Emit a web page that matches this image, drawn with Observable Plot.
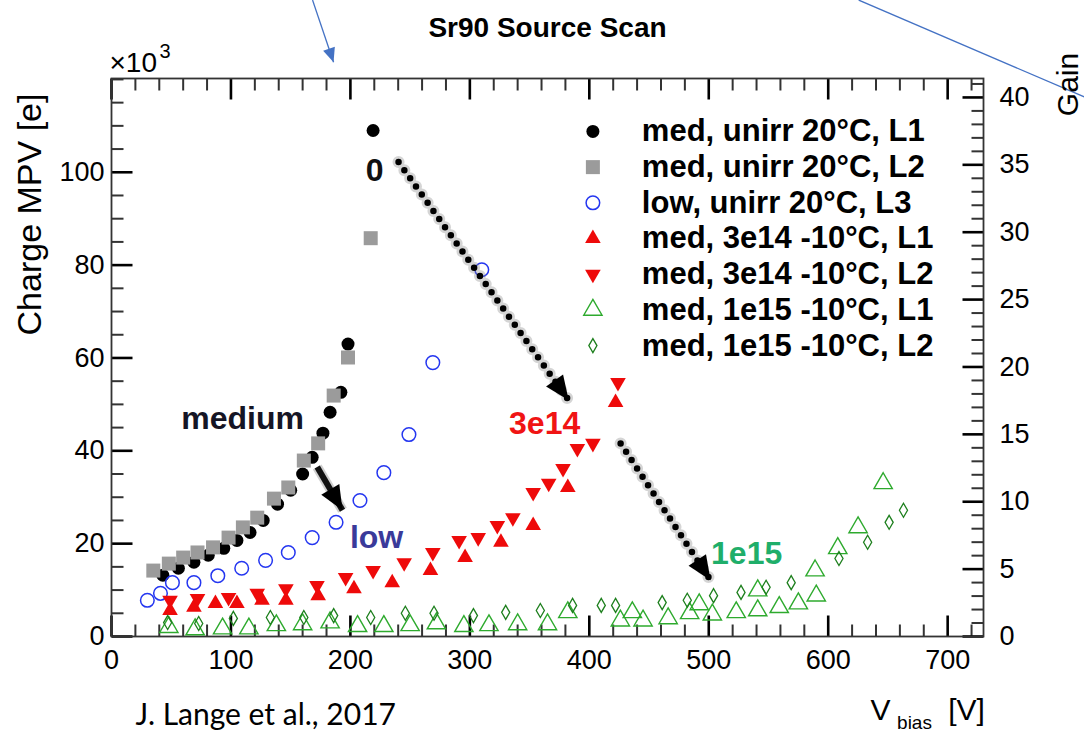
<!DOCTYPE html>
<html><head><meta charset="utf-8">
<script src="https://cdn.jsdelivr.net/npm/d3@7"></script>
<script src="https://cdn.jsdelivr.net/npm/@observablehq/plot@0.6"></script>
<style>
html,body{margin:0;padding:0;background:#fff;}
</style></head><body>
<script>
// ---------- data (V_bias [V], Charge MPV [x10^3 e]) ----------
const seriesLabels = [
  "med, unirr 20°C, L1",
  "med, unirr 20°C, L2",
  "low, unirr 20°C, L3",
  "med, 3e14 -10°C, L1",
  "med, 3e14 -10°C, L2",
  "med, 1e15 -10°C, L1",
  "med, 1e15 -10°C, L2"
];
const medUnirrL1V = [43,56,69,81,94,105,116,127,139,150,160,168,177,183,192,198,219];
const medUnirrL1Q = [13.2,14.7,16.0,17.5,19.0,20.7,22.4,25.0,28.5,31.5,35.0,38.6,43.8,48.3,52.6,63.0,109.0];
const medUnirrL2V = [35,48,60,72,85,98,110,122,136,148,161,173,186,198,217];
const medUnirrL2Q = [14.2,15.7,17.0,18.1,19.2,21.3,23.5,25.6,29.7,32.1,37.9,41.6,51.9,60.1,85.8];
const lowUnirrL3V = [30,41,51,69,89,109,129,148,168,188,208,228,249,269,310];
const lowUnirrL3Q = [7.8,9.3,11.6,11.6,13.1,14.7,16.4,18.1,21.3,24.6,29.3,35.3,43.5,59.0,79.0];
const med3e14L1V = [49,69,87,105,126,146,173,203,235,267,296,326,353,382,422];
const med3e14L1Q = [5.6,6.3,7.1,7.1,7.8,7.8,8.8,10.3,11.6,14.2,17.0,20.3,23.9,32.1,50.4];
const med3e14L2V = [49,72,98,122,146,172,196,219,245,269,291,307,323,336,353,366,378,390,403,424];
const med3e14L2Q = [7.8,8.2,8.4,9.3,10.3,11.0,12.7,14.2,15.9,18.1,20.7,21.3,23.9,25.6,31.0,33.0,36.2,40.5,41.6,54.7];
const med1e15L1V = [48,70,93,115,138,160,183,206,228,250,272,295,316,340,365,382,426,436,445,466,484,492,503,523,541,541,559,575,589,590,608,625,646];
const med1e15L1Q = [2.0,1.5,1.7,1.7,2.4,2.6,3.0,2.2,2.2,2.4,2.8,2.2,2.4,2.6,2.6,5.2,3.4,5.2,3.4,3.9,5.0,6.9,4.7,5.2,5.6,9.9,6.3,7.1,14.2,8.8,19.0,23.5,33.0];
const med1e15L2V = [47,73,102,133,161,186,217,246,270,303,330,359,386,410,422,461,482,504,527,548,569,609,633,651,663];
const med1e15L2Q = [3.0,2.8,3.9,4.1,4.1,4.5,4.1,5.0,5.0,4.5,5.2,5.6,6.7,6.7,6.7,7.3,7.8,8.8,9.5,10.6,11.6,16.8,20.3,24.6,27.2];

// axis ticks
const xTickLabels = [0,100,200,300,400,500,600,700];
const xMinorTicks = [20,40,60,80,120,140,160,180,220,240,260,280,320,340,360,380,420,440,460,480,520,540,560,580,620,640,660,680,720];
const yTickLabels = [0,20,40,60,80,100];
const yMinorTicks = [5,10,15,25,30,35,45,50,55,65,70,75,85,90,95,105,110,115,120];
const gainTickLabels = [0,5,10,15,20,25,30,35,40];
const gainMinorTicks = [1,2,3,4,6,7,8,9,11,12,13,14,16,17,18,19,21,22,23,24,26,27,28,29,31,32,33,34,36,37,38,39,41];
const kePerGain = 2.903;

// annotations (data units)
const annoLabels = ["medium","low","0","3e14","1e15"];
const annoV = [109.7, 221.9, 220.2, 362.6, 531.7];
const annoQ = [47.0, 21.3, 100.4, 45.9, 17.9];
const annoColors = ["#151525","#3a3a9a","#111111","#f01414","#1fae6a"];
const dottedArrows = [
  {x1: 240.3, y1: 102.2, x2: 382.7, y2: 50.9},
  {x1: 426.2, y1: 41.6, x2: 501.5, y2: 12.1}
];
const solidArrows = [{x1: 172.2, y1: 36.5, x2: 193.4, y2: 27.2}];
const blueLines = [
  {x1: 168.3, y1: 137.1, x2: 185.9, y2: 123.7, head: true},
  {x1: 625.5, y1: 137.1, x2: 814.7, y2: 116.2, head: false}
];

// ---------- styles ----------
const thinDiamond = {draw(ctx, size){ const R = Math.sqrt(size/Math.PI); ctx.moveTo(0,-R); ctx.lineTo(0.58*R,0); ctx.lineTo(0,R); ctx.lineTo(-0.58*R,0); ctx.closePath(); }};
const arrowHead = {draw(ctx, size){ const R = Math.sqrt(size/Math.PI); ctx.moveTo(0,0); ctx.lineTo(0.95*R, 2.2*R); ctx.lineTo(-0.95*R, 2.2*R); ctx.closePath(); }};

const series = [
  {v: medUnirrL1V, q: medUnirrL1Q, style: {symbol: "circle", r: 6.5, fill: "#000"}},
  {v: medUnirrL2V, q: medUnirrL2Q, style: {symbol: "square", r: 7.9, fill: "#9b9b9b"}},
  {v: lowUnirrL3V, q: lowUnirrL3Q, style: {symbol: "circle", r: 6.8, fill: "none", stroke: "#2436f0", strokeWidth: 1.5}},
  {v: med3e14L1V, q: med3e14L1Q, style: {symbol: "triangle", r: 5.8, fill: "#ee0a0a"}},
  {v: med3e14L2V, q: med3e14L2Q, style: {symbol: "triangle", r: 5.8, fill: "#ee0a0a", rotate: 180}},
  {v: med1e15L1V, q: med1e15L1Q, style: {symbol: "triangle", r: 6.8, fill: "none", stroke: "#2eaa2e", strokeWidth: 1.4}},
  {v: med1e15L2V, q: med1e15L2Q, style: {symbol: thinDiamond, r: 7, fill: "none", stroke: "#1d7f1d", strokeWidth: 1.3}}
];

const legendSymV = 403, legendTextV = 444, legendTopQ = 108.8, legendStepQ = 7.69;

const FONT = "'Liberation Sans', Arial, Helvetica, sans-serif";
const X_MAX = 730, Y_MAX = 120.2;
const base = {
  width: 1084, height: 733,
  marginLeft: 111, marginRight: 101, marginTop: 78, marginBottom: 97,
  x: {domain: [0, X_MAX]},
  y: {domain: [0, Y_MAX]},
  style: {fontFamily: FONT, background: "#fff", color: "#000", overflow: "visible"}
};

const probe = Plot.plot({...base, marks: [Plot.frame()]});
const sx = probe.scale("x"), sy = probe.scale("y");
const angleOf = d => Math.atan2(sx.apply(d.x2) - sx.apply(d.x1), -(sy.apply(d.y2) - sy.apply(d.y1))) * 180 / Math.PI;
// tick lengths (pixels -> data units through the plot's scales)
const MAJ = 21, MIN = 12;
const xLen = px => sx.invert(sx.apply(0) + px);
const yLen = px => sy.invert(sy.apply(0) - px);

const marks = [];
// inward ticks on all four sides (ROOT style)
const tkMaj = {stroke: "#000", strokeWidth: 2.6};
const tkMin = {stroke: "#333", strokeWidth: 2};
const vTicks = (vals, y0, len, st) => Plot.link(vals, {x1: d => d, x2: d => d, y1: () => y0, y2: () => y0 + len, ...st});
const hTicks = (vals, x0, len, st) => Plot.link(vals, {y1: d => d, y2: d => d, x1: () => x0, x2: () => x0 + len, ...st});
marks.push(vTicks(xTickLabels, 0, yLen(MAJ), tkMaj));
marks.push(vTicks(xMinorTicks, 0, yLen(MIN), tkMin));
marks.push(vTicks(xTickLabels, Y_MAX, -yLen(MAJ), tkMaj));
marks.push(vTicks(xMinorTicks, Y_MAX, -yLen(MIN), tkMin));
marks.push(hTicks(yTickLabels, 0, xLen(MAJ), tkMaj));
marks.push(hTicks(yMinorTicks, 0, xLen(MIN), tkMin));
marks.push(hTicks(gainTickLabels.map(g => g * kePerGain), X_MAX, -xLen(MAJ), tkMaj));
marks.push(hTicks(gainMinorTicks.map(g => g * kePerGain), X_MAX, -xLen(MIN), tkMin));
// tick labels
marks.push(Plot.axisX({anchor: "bottom", ticks: xTickLabels, tickSize: 0, tickPadding: 13, fontSize: 27, fill: "#000", tickFormat: d => String(d), label: null}));
marks.push(Plot.axisY({anchor: "left", ticks: yTickLabels, tickSize: 0, tickPadding: 7, fontSize: 27, fill: "#000", tickFormat: d => String(d), label: null}));
marks.push(Plot.axisY({anchor: "right", ticks: gainTickLabels.map(g => g * kePerGain), tickSize: 0, tickPadding: 16, fontSize: 27, fill: "#000", tickFormat: d => String(Math.round(d / kePerGain)), label: null}));
marks.push(Plot.frame({stroke: "#333", strokeWidth: 1.8}));

// data
for (const s of series) {
  const rows = s.v.map((v, i) => ({v, q: s.q[i]}));
  marks.push(Plot.dot(rows, {x: "v", y: "q", ...s.style}));
}
// legend
series.forEach((s, i) => {
  marks.push(Plot.dot([i], {x: () => legendSymV, y: d => legendTopQ - d * legendStepQ, ...s.style}));
});
marks.push(Plot.text(seriesLabels, {x: () => legendTextV, y: (d, i) => legendTopQ - i * legendStepQ, text: d => d, textAnchor: "start", lineAnchor: "middle", fontSize: 31, fontWeight: "bold", fill: "#000"}));

// arrows
marks.push(Plot.link(dottedArrows, {x1: "x1", y1: "y1", x2: "x2", y2: "y2", stroke: "#888", strokeOpacity: 0.35, strokeWidth: 12, strokeDasharray: "0,10", strokeLinecap: "round"}));
marks.push(Plot.link(dottedArrows, {x1: "x1", y1: "y1", x2: "x2", y2: "y2", stroke: "#000", strokeWidth: 6.5, strokeDasharray: "0,10", strokeLinecap: "round"}));
marks.push(Plot.link(solidArrows, {x1: "x1", y1: "y1", x2: "x2", y2: "y2", stroke: "#888", strokeOpacity: 0.4, strokeWidth: 10}));
marks.push(Plot.link(solidArrows, {x1: "x1", y1: "y1", x2: "x2", y2: "y2", stroke: "#111", strokeWidth: 6}));
marks.push(Plot.dot([...dottedArrows, ...solidArrows], {x: "x2", y: "y2", symbol: arrowHead, r: 11, fill: "#000", rotate: angleOf}));

// annotation labels
marks.push(Plot.text(annoLabels, {x: (d, i) => annoV[i], y: (d, i) => annoQ[i], text: d => d, fill: (d, i) => annoColors[i], fontSize: 32, fontWeight: "bold"}));

// slide blue lines
marks.push(Plot.link(blueLines, {x1: "x1", y1: "y1", x2: "x2", y2: "y2", stroke: "#4472c4", strokeWidth: 1.3}));
marks.push(Plot.dot(blueLines.filter(d => d.head), {x: "x2", y: "y2", symbol: arrowHead, r: 6.5, fill: "#4472c4", rotate: angleOf}));

// outer texts
const outer = (t, o) => Plot.text([t], {text: d => d, textAnchor: "middle", lineAnchor: "middle", fill: "#000", ...o});
marks.push(outer("Sr90 Source Scan", {frameAnchor: "top", dy: -50, fontSize: 28, fontWeight: "bold"}));
marks.push(outer("×10", {frameAnchor: "top-left", dx: -2, dy: -15, textAnchor: "start", fontSize: 28}));
marks.push(outer("3", {frameAnchor: "top-left", dx: 48, dy: -27, textAnchor: "start", fontSize: 20}));
marks.push(outer("Charge MPV [e]", {frameAnchor: "top-left", dx: -81, dy: 136, rotate: -90, fontSize: 34}));
marks.push(outer("Gain", {frameAnchor: "top-right", dx: 85, dy: 6, rotate: -90, fontSize: 30}));
marks.push(outer("V", {frameAnchor: "bottom-right", dx: -103, dy: 74, fontSize: 30}));
marks.push(outer("bias", {frameAnchor: "bottom-right", dx: -69, dy: 86, fontSize: 19}));
marks.push(outer("[V]", {frameAnchor: "bottom-right", dx: -17, dy: 74, fontSize: 30}));
marks.push(outer("J. Lange et al., 2017", {frameAnchor: "bottom-left", dx: 24, dy: 79, textAnchor: "start", fontSize: 30, fontFamily: "Lato, 'Open Sans', sans-serif"}));

const chart = Plot.plot({...base, marks});
document.body.appendChild(chart);
</script>
</body></html>
